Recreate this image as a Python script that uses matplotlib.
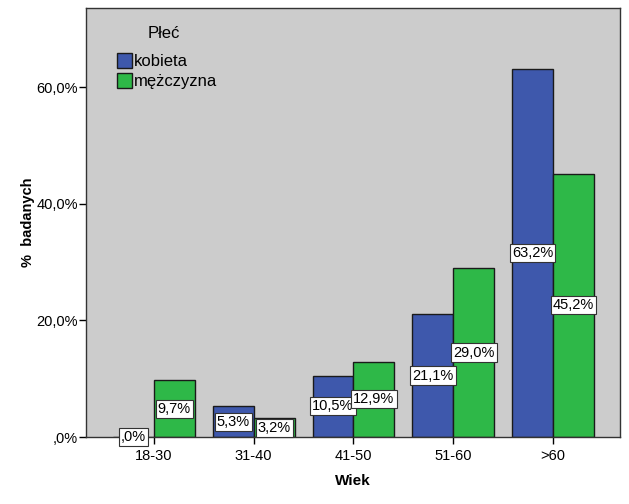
import numpy as np
import matplotlib
matplotlib.use('Agg')
import matplotlib.pyplot as plt
from matplotlib.patches import Patch

plt.rcParams['font.family'] = ['Liberation Sans', 'DejaVu Sans']

# data
categories = ['18-30', '31-40', '41-50', '51-60', '>60']
kobieta = [0.0, 5.3, 10.5, 21.1, 63.2]
mezczyzna = [9.7, 3.2, 12.9, 29.0, 45.2]
series_names = ['kobieta', 'mężczyzna']
colors = ['#3E58AC', '#2EB848']

def fmt(v):
    s = '%.1f%%' % v
    s = s.replace('.', ',')
    if s.startswith('0,'):
        s = s[1:]
    return s

fig = plt.figure(figsize=(6.29, 5.04), dpi=100)
ax = fig.add_axes([0.1367, 0.1329, 0.8490, 0.8511])
ax.set_facecolor('#CCCCCC')

x = np.arange(len(categories))
w = 0.41
for vals, off, col in [(kobieta, -w/2, colors[0]), (mezczyzna, w/2, colors[1])]:
    ax.bar(x+off, vals, width=w, color=col, edgecolor='#1a1a1a', linewidth=1, zorder=2)
    for xi, v in zip(x, vals):
        ax.text(xi+off, v/2.0, fmt(v), ha='center', va='center', fontsize=10.5, zorder=3,
                bbox=dict(boxstyle='square,pad=0.14', facecolor='white', edgecolor='#333333', linewidth=0.8))

ax.set_xlim(-0.68, 4.67)
ax.set_ylim(0, 73.6)
ax.set_xticks(x)
ax.set_xticklabels(categories, fontsize=10.5)
yt = [0, 20, 40, 60]
ax.set_yticks(yt)
ax.set_yticklabels([fmt(v) for v in yt], fontsize=10.5)
ax.tick_params(direction='out', length=5, width=1, color='black')
ax.tick_params(axis='y', pad=1)
for sp in ax.spines.values():
    sp.set_color('#333333')
    sp.set_linewidth(1)

ax.set_xlabel('Wiek', fontsize=11, fontweight='bold', labelpad=8)
ax.set_ylabel('%  badanych', fontsize=10.5, fontweight='bold', labelpad=1)

ax.text(0.115, 0.94, 'Płeć', transform=ax.transAxes, fontsize=12, ha='left', va='center')
handles = [Patch(facecolor=c, edgecolor='#1a1a1a', label=n) for c, n in zip(colors, series_names)]
leg = ax.legend(handles=handles, loc='upper left', bbox_to_anchor=(0.058, 0.895),
                frameon=False, fontsize=12, handlelength=0.9, handleheight=1.0,
                handletextpad=0.1, labelspacing=0.22, borderaxespad=0, borderpad=0)

fig.savefig('out.png', dpi=100)
